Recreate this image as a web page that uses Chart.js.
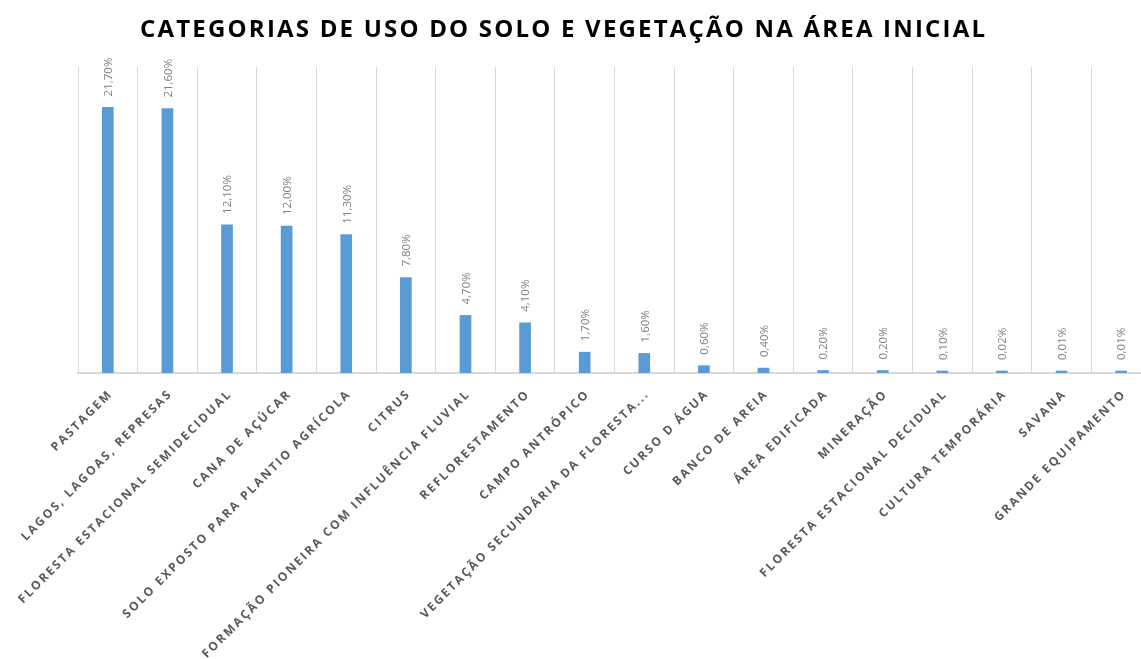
<!DOCTYPE html>
<html lang="pt">
<head>
    <meta charset="UTF-8">
    <title>Categorias de uso do solo e vegetação na área inicial</title>
    <script src="https://cdn.jsdelivr.net/npm/chart.js"></script>
    <style>
        body {
            margin: 0;
            padding: 0;
            background: #ffffff;
            overflow: hidden;
            width: 1141px;
            height: 659px;
        }
        /* o gráfico original passa um pouco da borda direita */
        .chart-container {
            position: absolute;
            left: 0;
            top: 0;
            width: 1151px;
            height: 659px;
        }
    </style>
</head>
<body>
    <div class="chart-container">
        <canvas id="usoChart"></canvas>
    </div>
    <script>
        // Dados
        const tituloGrafico = 'CATEGORIAS DE USO DO SOLO E VEGETAÇÃO NA ÁREA INICIAL';
        const categorias = [
            'PASTAGEM',
            'LAGOS, LAGOAS, REPRESAS',
            'FLORESTA ESTACIONAL SEMIDECIDUAL',
            'CANA DE AÇÚCAR',
            'SOLO EXPOSTO PARA PLANTIO AGRÍCOLA',
            'CITRUS',
            'FORMAÇÃO PIONEIRA COM INFLUÊNCIA FLUVIAL',
            'REFLORESTAMENTO',
            'CAMPO ANTRÓPICO',
            'VEGETAÇÃO SECUNDÁRIA DA FLORESTA...',
            'CURSO D ÁGUA',
            'BANCO DE AREIA',
            'ÁREA EDIFICADA',
            'MINERAÇÃO',
            'FLORESTA ESTACIONAL DECIDUAL',
            'CULTURA TEMPORÁRIA',
            'SAVANA',
            'GRANDE EQUIPAMENTO'
        ];
        const percentuais = [21.7, 21.6, 12.1, 12.0, 11.3, 7.8, 4.7, 4.1, 1.7, 1.6, 0.6, 0.4, 0.2, 0.2, 0.1, 0.02, 0.01, 0.01];
        const eixoMax = 25;

        function formatarPct(v) {
            return v.toFixed(2).replace('.', ',') + '%';
        }

        // Desenha título, rótulos dos dados e rótulos do eixo x
        const rotulosPlugin = {
            id: 'rotulos',
            afterDraw(chart) {
                const ctx = chart.ctx;
                const meta = chart.getDatasetMeta(0);
                const xScale = chart.scales.x;

                // título com espaçamento entre letras
                ctx.save();
                ctx.font = 'bold 24px "Open Sans"';
                ctx.fillStyle = '#000000';
                ctx.textBaseline = 'alphabetic';
                ctx.textAlign = 'left';
                const larguraBase = ctx.measureText(tituloGrafico).width;
                const larguraAlvo = 845;
                const espaco = (larguraAlvo - larguraBase) / (tituloGrafico.length - 1);
                ctx.letterSpacing = espaco + 'px';
                ctx.fillText(tituloGrafico, 140, 37);
                ctx.restore();

                // valores acima das barras (verticais)
                ctx.save();
                ctx.font = '11.5px "Open Sans"';
                ctx.fillStyle = '#808080';
                ctx.textAlign = 'left';
                ctx.textBaseline = 'middle';
                meta.data.forEach((bar, i) => {
                    ctx.save();
                    ctx.translate(bar.x + 1, bar.y - 11);
                    ctx.rotate(-Math.PI / 2);
                    ctx.fillText(formatarPct(percentuais[i]), 0, 0);
                    ctx.restore();
                });
                ctx.restore();

                // rótulos das categorias inclinados
                ctx.save();
                ctx.font = 'bold 12px "Open Sans"';
                ctx.fillStyle = '#595959';
                ctx.letterSpacing = '2.1px';
                ctx.textAlign = 'right';
                ctx.textBaseline = 'middle';
                categorias.forEach((cat, i) => {
                    const cx = xScale.getPixelForValue(i);
                    ctx.save();
                    ctx.translate(cx + 3, chart.chartArea.bottom + 19);
                    ctx.rotate(-Math.PI / 4);
                    ctx.fillText(cat, 0, 0);
                    ctx.restore();
                });
                ctx.restore();
            }
        };

        const ctx = document.getElementById('usoChart').getContext('2d');
        const usoChart = new Chart(ctx, {
            type: 'bar',
            data: {
                labels: categorias,
                datasets: [{
                    data: percentuais,
                    backgroundColor: '#5b9bd5',
                    borderWidth: 0,
                    barThickness: 11,
                    minBarLength: 2
                }]
            },
            options: {
                responsive: true,
                maintainAspectRatio: false,
                animation: false,
                layout: {
                    padding: { left: 78, top: 67, right: 0, bottom: 286 }
                },
                plugins: {
                    legend: { display: false },
                    tooltip: { enabled: false },
                    title: { display: false }
                },
                scales: {
                    x: {
                        grid: {
                            color: '#d9d9d9',
                            lineWidth: 1,
                            drawTicks: false,
                            offset: true
                        },
                        border: { color: '#d9d9d9', width: 2 },
                        ticks: { display: false }
                    },
                    y: {
                        display: false,
                        min: 0,
                        max: eixoMax
                    }
                }
            },
            plugins: [rotulosPlugin]
        });
    </script>
</body>
</html>
